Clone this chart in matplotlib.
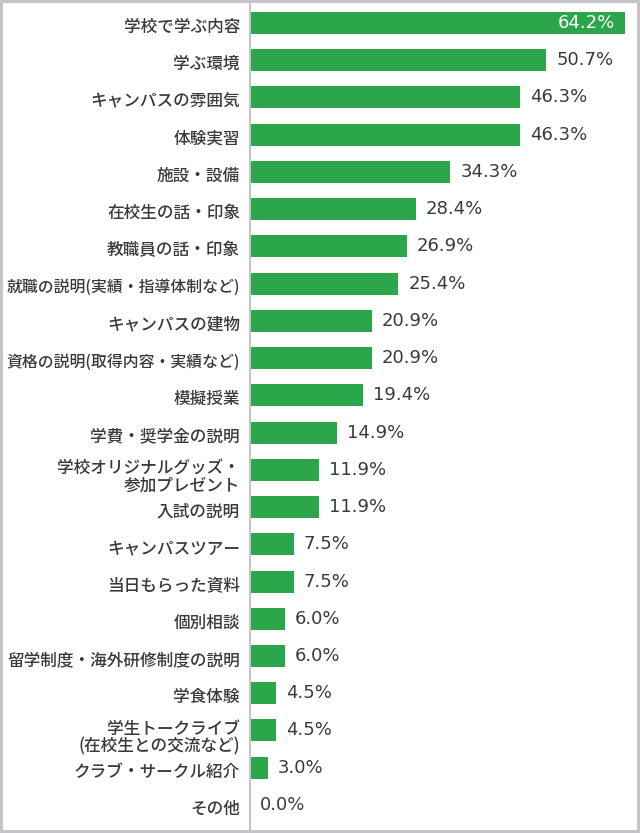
import matplotlib
matplotlib.use("Agg")
import matplotlib.pyplot as plt
from matplotlib.patches import Rectangle

categories = [
    "学校で学ぶ内容",
    "学ぶ環境",
    "キャンパスの雰囲気",
    "体験実習",
    "施設・設備",
    "在校生の話・印象",
    "教職員の話・印象",
    "就職の説明(実績・指導体制など)",
    "キャンパスの建物",
    "資格の説明(取得内容・実績など)",
    "模擬授業",
    "学費・奨学金の説明",
    "学校オリジナルグッズ・\n参加プレゼント",
    "入試の説明",
    "キャンパスツアー",
    "当日もらった資料",
    "個別相談",
    "留学制度・海外研修制度の説明",
    "学食体験",
    "学生トークライブ\n(在校生との交流など)",
    "クラブ・サークル紹介",
    "その他",
]
values = [64.2, 50.7, 46.3, 46.3, 34.3, 28.4, 26.9, 25.4, 20.9, 20.9, 19.4,
          14.9, 11.9, 11.9, 7.5, 7.5, 6.0, 6.0, 4.5, 4.5, 3.0, 0.0]

plt.rcParams['font.family'] = ['Noto Sans CJK JP', 'DejaVu Sans']

W, H = 640, 833
fig = plt.figure(figsize=(W / 100, H / 100), dpi=100)
ax = fig.add_axes([250 / W, 2 / H, (637 - 250) / W, 829 / H])

y = list(range(len(categories)))
ax.barh(y, values, height=0.59, color='#2ba64a')
ax.set_xlim(0, 387 / 5.84)
ax.set_ylim(21.70, -0.564)

# value labels
for i, v in enumerate(values):
    if i == 0:
        ax.annotate(f"{v:.1f}%", (v, i), xytext=(-7.2, 0), textcoords='offset points',
                    ha='right', va='center', color='white', fontsize=13,
                    family='DejaVu Sans')
    else:
        ax.annotate(f"{v:.1f}%", (v, i), xytext=(7.2, 0), textcoords='offset points',
                    ha='left', va='center', color='#3a3a3a', fontsize=13,
                    family='DejaVu Sans')

# category labels
for i, c in enumerate(categories):
    size = 12
    dy = -1.44
    if "\n" in c:
        dy = -4.3
    elif "(" in c:
        size = 11.4
    ax.annotate(c, (0, i), xytext=(-7.2, dy), textcoords='offset points',
                ha='right', va='center_baseline', multialignment='right',
                fontsize=size, fontweight='medium', color='#3a3a3a',
                linespacing=0.95, annotation_clip=False)

ax.set_yticks([])
ax.set_xticks([])

for s in ['top', 'right', 'bottom']:
    ax.spines[s].set_visible(False)
ax.spines['left'].set_color('#c4c4c8')
ax.spines['left'].set_linewidth(1.5)

fig.patches.append(Rectangle((0, 0), 1, 1, transform=fig.transFigure, fill=False,
                             edgecolor='#c4c4c8', linewidth=4.3))

fig.savefig("out.png", dpi=100)
